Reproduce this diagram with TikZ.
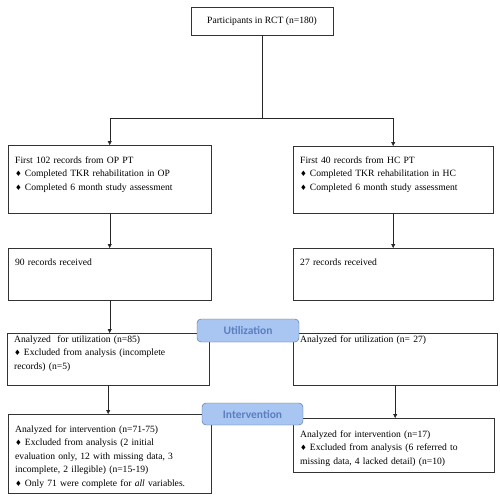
\documentclass[tikz,border=0pt]{standalone}
\usepackage{fontspec}
\setmainfont{Liberation Serif}
\newfontfamily\symfont{DejaVu Sans}
\newfontfamily\labfont{Carlito}
\usetikzlibrary{arrows.meta}

\definecolor{stagefill}{HTML}{A9C6F2}
\definecolor{stageline}{HTML}{4F6A8F}
\definecolor{stagetext}{HTML}{5B7EC0}

% diamond bullet
\newcommand{\dia}{{\symfont\fontsize{7.5}{7.5}\selectfont\char"2666}\hspace{3pt}}

\begin{document}
\begin{tikzpicture}[x=1pt, y=-1pt,
    every node/.style={font=\fontsize{9.6}{13.5}\selectfont},
    % Flow boxes: text starts top left
    box/.style={draw=black!80, anchor=north west, align=left,
        inner xsep=7pt, inner ysep=0pt},
    % Blue stage tags
    stage/.style={draw=stageline, fill=stagefill, rounded corners=4pt,
        inner sep=0pt, font=\labfont\bfseries\fontsize{11.5}{12}\selectfont,
        text=stagetext},
    % Arrow style
    arr/.style={-{Triangle[length=4pt,width=4pt]}, draw=black!85},
]
\useasboundingbox (0,0) rectangle (500,503);

% ============================================================
% Top
% ============================================================
\node[draw=black!80, minimum width=142pt, minimum height=28pt, inner sep=0pt] (rct) at (262,21) {Participants in RCT (n=180)};

% ============================================================
% OP PT column (left)
% ============================================================
\node[box, text width=189pt, text height=18pt, text depth=50pt] (op) at (8,145)
    {First 102 records from OP PT\\
     \dia Completed TKR rehabilitation in OP\\
     \dia Completed 6 month study assessment};
\node[box, text width=189pt, text height=17pt, text depth=35pt] (oprec) at (8,248)
    {90 records received};
\node[box, text width=188pt, text height=9pt, text depth=43pt] (oputil) at (7,333)
    {Analyzed\ \ for utilization (n=85)\\
     \dia Excluded from analysis (incomplete\\
     records) (n=5)};
\node[box, text width=189pt, text height=18pt, text depth=61pt] (opint) at (8,414)
    {Analyzed for intervention (n=71-75)\\
     \dia Excluded from analysis (2 initial\\
     evaluation only, 12 with missing data, 3\\
     incomplete, 2 illegible) (n=15-19)\\
     \dia Only 71 were complete for \textit{all} variables.};

% ============================================================
% HC PT column (right)
% ============================================================
\node[box, text width=186pt, text height=17pt, text depth=50pt] (hc) at (293,146)
    {First 40 records from HC PT\\
     \dia Completed TKR rehabilitation in HC\\
     \dia Completed 6 month study assessment};
\node[box, text width=186pt, text height=17pt, text depth=35pt] (hcrec) at (293,248)
    {27 records received};
\node[box, text width=190pt, text height=9pt, text depth=43pt] (hcutil) at (293,333)
    {Analyzed for utilization (n= 27)};
\node[box, text width=187pt, text height=19pt, text depth=35pt] (hcint) at (293,418)
    {Analyzed for intervention (n=17)\\
     \dia Excluded from analysis (6 referred to\\
     missing data, 4 lacked detail) (n=10)};

% ============================================================
% Stage tags
% ============================================================
\node[stage, minimum width=102pt, minimum height=23pt] (util) at (248,330.5) {Utilization};
\node[stage, minimum width=101pt, minimum height=22pt] (interv) at (252.5,414) {Intervention};

% ============================================================
% Connectors
% ============================================================
\draw[draw=black!85] (rct.south) -- ++(0,83) coordinate (split);
\draw[arr] (split) -| (op.north);
\draw[arr] (split) -| (hc.north);
\draw[arr] (op.south) -- (oprec.north);
\draw[arr] (hc.south) -- (hcrec.north);
\draw[arr] (oprec.south) -- (oprec.south |- oputil.north);
\draw[arr] (oputil.south) -- (oputil.south |- opint.north);
\draw[arr] (hcutil.south) -- (hcutil.south |- hcint.north);

\end{tikzpicture}
\end{document}
